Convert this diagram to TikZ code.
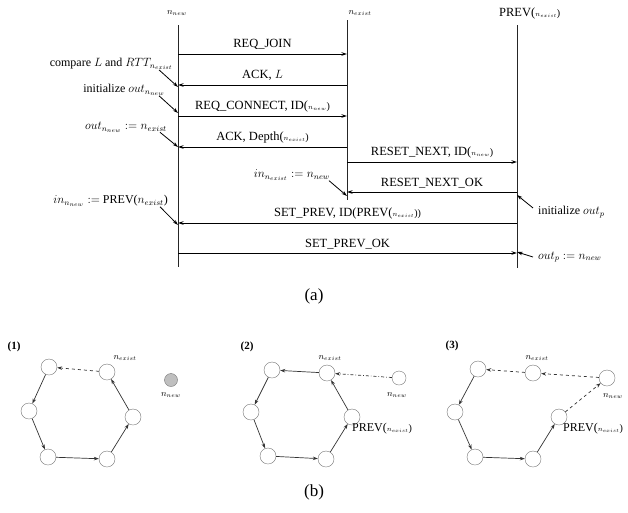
\documentclass[tikz,border=0pt]{standalone}
\usepackage{fontspec}
\setmainfont{Liberation Serif}
\usetikzlibrary{arrows.meta, positioning, calc}
\tikzset{
    % sequence chart
    lifeline/.style = {line width=0.8pt, black!85},
    msg/.style      = {line width=0.8pt, -{Stealth[length=5.5pt, width=3.5pt]}},
    msglabel/.style = {above=0.5pt, font=\fontsize{12.5}{14}\selectfont},
    note/.style     = {font=\fontsize{12}{14}\selectfont, inner sep=1pt},
    notearrow/.style= {line width=0.8pt, -{Stealth[length=5.5pt, width=3.5pt]}},
    head/.style     = {font=\fontsize{9}{10}\selectfont, inner sep=1pt},
    % ring snapshots
    peer/.style     = {circle, draw=black!55, minimum size=16pt, inner sep=0pt},
    ring/.style     = {line width=0.7pt, black!80, -{Stealth[length=5pt, width=3.5pt]}},
    link/.style     = {ring, dashed},
    tag/.style      = {font=\fontsize{9}{10}\selectfont, inner sep=1pt},
    panel/.style    = {font=\bfseries\fontsize{11}{13}\selectfont},
    caption/.style  = {font=\fontsize{17}{19}\selectfont}
}

\begin{document}
\begin{tikzpicture}[x=1pt, y=-1pt]
    \useasboundingbox (0,0) rectangle (628,512);

    % Lifelines
    \coordinate (new) at (178,25);
    \coordinate (newend) at (178,267);
    \coordinate (exist) at (347,20);
    \coordinate (existend) at (347,200);
    \coordinate (prev) at (517,25);
    \coordinate (prevend) at (517,268);
    \draw [lifeline] (new) -- (newend);
    \draw [lifeline] (exist) -- (existend);
    \draw [lifeline] (prev) -- (prevend);

    \node (newhead) [head] at (177,13) {$n_{new}$};
    \node (existhead) [head] at (360,13) {$n_{exist}$};
    \node (prevhead) [font=\fontsize{12.5}{14}\selectfont, anchor=west, inner sep=0pt] at (499,13) {PREV(\scriptsize$n_{exist}$\normalsize)};

    % Messages
    \foreach \y/\a/\b/\txt in {
        54/new/exist/{REQ\_JOIN},
        85/exist/new/{ACK, $L$},
        116/new/exist/{REQ\_CONNECT, ID(\scriptsize$n_{new}$\normalsize)},
        147/exist/new/{ACK, Depth(\scriptsize$n_{exist}$\normalsize)},
        162/exist/prev/{RESET\_NEXT, ID(\scriptsize$n_{new}$\normalsize)},
        192/prev/exist/{RESET\_NEXT\_OK},
        223/prev/new/{SET\_PREV, ID(PREV(\scriptsize$n_{exist}$\normalsize))},
        253/new/prev/{SET\_PREV\_OK}}
    {
        \coordinate (row) at (0,\y);
        \draw [msg] (\a |- row) -- node[msglabel] {\txt} (\b |- row);
    }

    % Annotations
    \node (cmp) [note, anchor=east] at (174,64) {compare $L$ and $RTT_{n_{exist}}$};
    \node (initout) [note, anchor=east] at (166,90) {initialize $out_{n_{new}}$};
    \node (setout) [note, anchor=east] at (168,127) {$out_{n_{new}} := n_{exist}$};
    \node (setinx) [note, anchor=east] at (331,175) {$in_{n_{exist}} := n_{new}$};
    \node (setinn) [note, anchor=east] at (169,201) {$in_{n_{new}} :=$ PREV($n_{exist}$)};
    \node (initprev) [note, anchor=west] at (537,212) {initialize $out_{p}$};
    \node (setprev) [note, anchor=west] at (537,257) {$out_{p} := n_{new}$};

    \coordinate (t1) at (178,87);
    \coordinate (t2) at (178,113);
    \coordinate (t3) at (178,147);
    \coordinate (t4) at (347,196);
    \coordinate (t5) at (178,225);
    \coordinate (t6) at (517,195);
    \coordinate (t7) at (517,252);
    \draw [notearrow] ([xshift=-15pt, yshift=1pt]cmp.south east) -- (t1);
    \draw [notearrow] ([xshift=-7pt, yshift=1pt]initout.south east) -- (t2);
    \draw [notearrow] ([xshift=-8pt, yshift=1pt]setout.south east) -- (t3);
    \draw [notearrow] ([xshift=-2pt, yshift=1pt]setinx.south east) -- (t4);
    \draw [notearrow] ([xshift=-9pt, yshift=1pt]setinn.south east) -- (t5);
    \draw [notearrow] ([xshift=-4pt, yshift=-3pt]initprev.north west) -- (t6);
    \draw [notearrow] ([xshift=-4pt]setprev.west) -- (t7);

    \node (capa) [caption] at (314,296) {(a)};

    % Snapshot (1)
    \node (p1) [panel] at (14,347) {(1)};
    \node (a1) [peer] at (49,367) {};
    \node (a2) [peer] at (107,372) {};
    \node (a3) [peer] at (133,417) {};
    \node (a4) [peer] at (107,459) {};
    \node (a5) [peer] at (48,457) {};
    \node (a6) [peer] at (29,411) {};
    \node (anew) [peer, fill=black!25, minimum size=13pt] at (171,380) {};
    \node [tag] at (125,358) {$n_{exist}$};
    \node [tag] at (171,395) {$n_{new}$};
    \draw [link] (a2) -- (a1);
    \draw [ring] (a1) -- (a6);
    \draw [ring] (a6) -- (a5);
    \draw [ring] (a5) -- (a4);
    \draw [ring] (a4) -- (a3);
    \draw [ring] (a3) -- (a2);

    % Snapshot (2)
    \node (p2) [panel] at (247,347) {(2)};
    \node (b1) [peer] at (272,370) {};
    \node (b2) [peer] at (327,373) {};
    \node (b3) [peer] at (352,417) {};
    \node (b4) [peer] at (326,459) {};
    \node (b5) [peer] at (268,456) {};
    \node (b6) [peer] at (251,412) {};
    \node (bnew) [peer, minimum size=14pt] at (399,378) {};
    \node [tag] at (330,358) {$n_{exist}$};
    \node [tag] at (397,395) {$n_{new}$};
    \node [note, anchor=west] at (351,429) {PREV(\scriptsize$n_{exist}$\normalsize)};
    \draw [ring] (b2) -- (b1);
    \draw [ring] (b1) -- (b6);
    \draw [ring] (b6) -- (b5);
    \draw [ring] (b5) -- (b4);
    \draw [ring] (b4) -- (b3);
    \draw [ring] (b3) -- (b2);
    \draw [link, dash dot] (bnew) -- (b2);

    % Snapshot (3)
    \node (p3) [panel] at (452,346) {(3)};
    \node (c1) [peer] at (478,369) {};
    \node (c2) [peer] at (533,373) {};
    \node (cnew) [peer] at (607,378) {};
    \node (c3) [peer] at (559,417) {};
    \node (c4) [peer] at (533,459) {};
    \node (c5) [peer] at (475,457) {};
    \node (c6) [peer] at (455,412) {};
    \node [tag] at (537,358) {$n_{exist}$};
    \node [tag] at (613,396) {$n_{new}$};
    \node [note, anchor=west] at (562,429) {PREV(\scriptsize$n_{exist}$\normalsize)};
    \draw [link] (c2) -- (c1);
    \draw [ring] (c1) -- (c6);
    \draw [ring] (c6) -- (c5);
    \draw [ring] (c5) -- (c4);
    \draw [ring] (c4) -- (c3);
    \draw [link] (c3) -- (cnew);
    \draw [link] (cnew) -- (c2);

    \node (capb) [caption] at (314,492) {(b)};

\end{tikzpicture}
\end{document}
